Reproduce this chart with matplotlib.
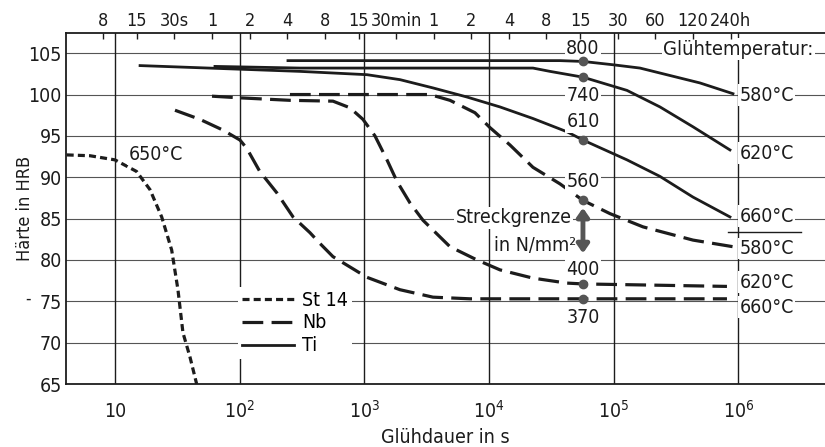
import numpy as np
import matplotlib
matplotlib.use("Agg")
import matplotlib.pyplot as plt
from matplotlib import font_manager
from matplotlib.lines import Line2D

# font: pick a narrow face if one is installed, else Roboto
fonts = font_manager.fontManager.ttflist
names = {f.name for f in fonts}
stretch = 'normal'
if 'Liberation Sans Narrow' in names:
    font = 'Liberation Sans Narrow'
elif any(f.name == 'DejaVu Sans' and f.stretch == 'condensed' for f in fonts):
    font, stretch = 'DejaVu Sans', 'condensed'
else:
    font = 'Roboto'
plt.rcParams['font.family'] = font
plt.rcParams['font.stretch'] = stretch
plt.rcParams['mathtext.fontset'] = 'custom'
plt.rcParams['mathtext.rm'] = font
plt.rcParams['mathtext.it'] = font
fs = 14

# ---- data (Glühdauer in s, Härte in HRB) ----
st14_t = [4.1, 6.3, 10, 14.9, 19.1, 23.7, 28.5, 32.0, 35.1, 39.9, 45.2]
st14_h = [92.7, 92.6, 92.1, 90.7, 88.5, 85.2, 81.2, 76.4, 71.2, 68.3, 65.0]

nb660_t = [30.3, 48, 73.5, 100.5, 114, 145, 199, 268, 366, 440, 560, 1049, 1929, 3548, 7027, 56600, 808300]
nb660_h = [98.1, 97.0, 95.7, 94.5, 93.5, 90.7, 88.1, 85.2, 83.3, 82.0, 80.4, 77.9, 76.4, 75.5, 75.3, 75.3, 75.3]

nb620_t = [60, 100.5, 253, 560, 766, 974, 1216, 1518, 1826, 2320, 2951, 4858, 7997, 12230, 22490, 42130, 56600, 808300]
nb620_h = [99.8, 99.6, 99.3, 99.2, 98.4, 97.0, 95.0, 92.1, 89.5, 86.9, 84.8, 81.6, 80.0, 78.8, 77.8, 77.2, 77.1, 76.8]

nb580_t = [253, 3357, 4858, 7707, 10170, 14710, 22490, 37030, 56600, 93200, 171500, 431600, 903300]
nb580_h = [100.0, 100.0, 99.3, 97.8, 96.0, 93.9, 91.2, 89.2, 87.2, 85.6, 84.0, 82.4, 81.6]

ti580_t = [244, 37030, 56600, 98500, 162200, 234700, 491300, 903300]
ti580_h = [104.1, 104.1, 104.0, 103.6, 103.2, 102.6, 101.4, 100.1]

ti620_t = [63.4, 304, 22490, 30780, 56600, 127600, 234700, 431600, 854500]
ti620_h = [103.4, 103.2, 103.2, 102.8, 102.1, 100.5, 98.5, 96.1, 93.3]

ti660_t = [15.9, 304, 1049, 1929, 3548, 6648, 12230, 22490, 42130, 56600, 127600, 234700, 431600, 854500]
ti660_h = [103.5, 102.8, 102.4, 101.8, 100.8, 99.7, 98.5, 97.1, 95.5, 94.5, 92.1, 90.1, 87.6, 85.2]

# Streckgrenze points (N/mm2) at ~15 h
ys_t = 56600
ys_h = [104.0, 102.1, 94.5, 87.2, 77.1, 75.3]
ys_labels = ['800', '740', '610', '560', '400', '370']
ys_label_y = [105.6, 99.9, 96.7, 89.5, 78.9, 73.0]

# right-hand temperature labels
temp_labels = ['580°C', '620°C', '660°C', '580°C', '620°C', '660°C']
temp_y = [99.9, 92.9, 85.3, 81.4, 77.3, 74.3]

# bottom and top axes
bottom_ticks = [10, 1e2, 1e3, 1e4, 1e5, 1e6]
bottom_labels = ['10', '$10^{2}$', '$10^{3}$', '$10^{4}$', '$10^{5}$', '$10^{6}$']
top_ticks = [8, 15, 30, 60, 120, 240, 480, 900, 1800, 3600, 7200, 14400, 28800,
             54000, 108000, 216000, 432000, 864000]
top_labels = ['8', '15', '30s', '1', '2', '4', '8', '15', '30min', '1', '2', '4', '8',
              '15', '30', '60', '120', '240h']
y_ticks = [65, 70, 75, 80, 85, 90, 95, 100, 105]

ink = '#1c1c1c'
white_box = dict(facecolor='white', edgecolor='none', pad=1.0)

fig = plt.figure(figsize=(8.25, 4.47), dpi=100)
ax = fig.add_axes([66 / 825, 1 - 384 / 447, (825 - 66) / 825, (384 - 33) / 447])
ax.set_xscale('log')
ax.set_xlim(4.05, 4.94e6)
ax.set_ylim(65, 107.44)

# grid
for y in y_ticks[1:]:
    ax.axhline(y, color='#555', lw=0.8, zorder=1)
for x in bottom_ticks:
    ax.axvline(x, color=ink, lw=1.0, zorder=1)

ax.spines['right'].set_visible(False)
for s in ['left', 'bottom', 'top']:
    ax.spines[s].set_linewidth(1.3)
    ax.spines[s].set_color(ink)

ax.set_yticks(y_ticks)
ax.set_yticklabels([str(v) for v in y_ticks])
ax.tick_params(axis='y', length=0, pad=3, labelsize=fs, colors=ink)
ax.set_xticks(bottom_ticks)
ax.set_xticklabels(bottom_labels)
ax.minorticks_off()
ax.tick_params(axis='x', length=0, pad=24, labelsize=fs, colors=ink)
for lab in ax.get_xticklabels():
    lab.set_va('baseline')

ax.set_ylabel('Härte in HRB', fontsize=fs - 1, color=ink, labelpad=-4)
ax.set_xlabel('Glühdauer in s', fontsize=fs, color=ink, labelpad=5)

# top time axis
top = ax.twiny()
top.set_xscale('log')
top.set_xlim(ax.get_xlim())
top.set_xticks(top_ticks)
top.set_xticklabels(top_labels)
top.minorticks_off()
top.tick_params(axis='x', direction='in', length=4, width=1.0, pad=2, labelsize=fs - 1, colors=ink)
for s in top.spines.values():
    s.set_visible(False)

# curves
st_style = dict(color=ink, lw=2.3, dashes=(2.2, 1.3), zorder=3)
nb_style = dict(color=ink, lw=2.3, dashes=(6.5, 2.6), zorder=3)
ti_style = dict(color=ink, lw=2.0, zorder=3)

ax.plot(st14_t, st14_h, **st_style)
ax.plot(nb660_t, nb660_h, **nb_style)
ax.plot(nb620_t, nb620_h, **nb_style)
ax.plot(nb580_t, nb580_h, **nb_style)
ax.plot(ti580_t, ti580_h, **ti_style)
ax.plot(ti620_t, ti620_h, **ti_style)
ax.plot(ti660_t, ti660_h, **ti_style)

ax.plot([ys_t] * len(ys_h), ys_h, 'o', color='#555', ms=6, zorder=6)
for lab, y in zip(ys_labels, ys_label_y):
    ax.text(ys_t, y, lab, ha='center', va='center', fontsize=fs, color=ink,
            bbox=white_box, zorder=5)

for lab, y in zip(temp_labels, temp_y):
    ax.text(1.02e6, y, lab, ha='left', va='center', fontsize=fs, color=ink,
            bbox=white_box, zorder=5)
# separator line under Ti labels
ax.plot([8.3e5, 3.2e6], [83.4, 83.4], color=ink, lw=1.0, zorder=4)

ax.text(2.5e5, 105.5, 'Glühtemperatur:', ha='left', va='center', fontsize=fs + 0.5,
        color=ink, bbox=white_box, zorder=5)
ax.text(12.8, 92.8, '650°C', ha='left', va='center', fontsize=fs, color=ink,
        bbox=white_box, zorder=5)

ax.text(4.6e4, 85.1, 'Streckgrenze', ha='right', va='center', fontsize=fs,
        color=ink, bbox=white_box, zorder=5)
ax.text(5.0e4, 81.8, 'in N/mm²', ha='right', va='center', fontsize=fs,
        color=ink, bbox=white_box, zorder=5)
ax.annotate('', xy=(ys_t, 80.8), xytext=(ys_t, 86.3),
            arrowprops=dict(arrowstyle='<|-|>,head_length=0.5,head_width=0.35',
                            lw=3.5, color='#555', shrinkA=0, shrinkB=0), zorder=5)

# legend
handles = [Line2D([], [], **st_style), Line2D([], [], **nb_style), Line2D([], [], **ti_style)]
leg = ax.legend(handles, ['St 14', 'Nb', 'Ti'], loc='upper left',
                bbox_to_anchor=((228 - 66) / 759, (384 - 277) / 351),
                frameon=True, fancybox=False, framealpha=1, facecolor='white',
                edgecolor='none', handlelength=2.7, handletextpad=0.4,
                labelspacing=0.2, borderpad=0.2, fontsize=fs)
leg.set_zorder(6)

fig.text(28 / 825, 1 - 299 / 447, '-', fontsize=12, color=ink, ha='center', va='center')

fig.savefig('out.png', dpi=100)
